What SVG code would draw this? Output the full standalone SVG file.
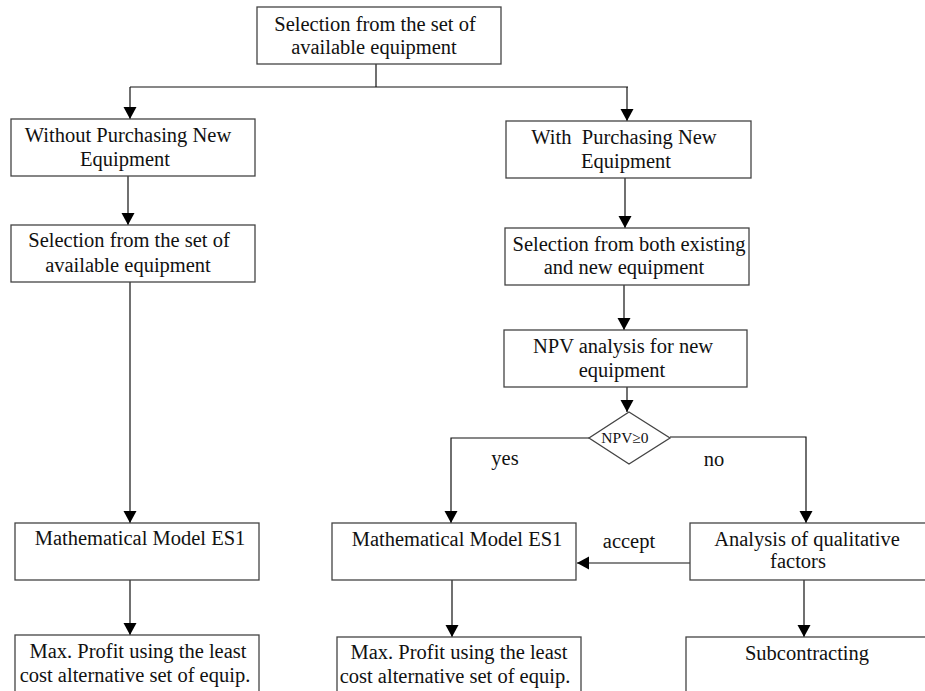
<svg xmlns="http://www.w3.org/2000/svg" width="925" height="691" viewBox="0 0 925 691" font-family="Liberation Serif, Times New Roman, DejaVu Serif, serif">
<defs>
<marker id="arr" markerUnits="userSpaceOnUse" markerWidth="14" markerHeight="14" refX="12" refY="6.5" orient="auto">
<path d="M0,0 L12,6.5 L0,13 Z" fill="#000"/>
</marker>
<style>
.box{fill:#fff;stroke:#444;stroke-width:1.3}
.ln{fill:none;stroke:#111;stroke-width:1.2}
.ar{fill:none;stroke:#111;stroke-width:1.2;marker-end:url(#arr)}
text{font-family:'Liberation Serif','Times New Roman','DejaVu Serif',serif;font-size:20.5px;fill:#111;text-anchor:middle;white-space:pre}
.sm{font-size:15.5px}
</style>
</defs>
<rect width="925" height="691" fill="#fff"/>
<g id="connectors">
<polyline class="ln" points="376,64 376,87"/>
<polyline class="ln" points="130,87 628,87"/>
<polyline class="ar" points="130,87 130,119"/>
<polyline class="ar" points="627,87 627,121"/>
<polyline class="ar" points="128,176 128,225"/>
<polyline class="ar" points="130,282 130,523"/>
<polyline class="ar" points="130,580 130,635"/>
<polyline class="ar" points="625,178 625,228"/>
<polyline class="ar" points="624,285 624,330"/>
<polyline class="ar" points="627,387 627,412"/>
<polyline class="ar" points="589,438 451,438 451,523"/>
<polyline class="ar" points="670,437 806,437 806,523"/>
<polyline class="ar" points="690,563 577,563"/>
<polyline class="ar" points="452,580 452,637"/>
<polyline class="ar" points="804,580 804,637"/>
<text x="505" y="465">yes</text>
<text x="714" y="466">no</text>
<text x="629" y="548">accept</text>
</g>
<g id="n-top">
<rect class="box" x="257" y="7" width="244" height="57"/>
<text x="375" y="31">Selection from the set of</text>
<text x="374" y="54">available equipment</text>
</g>
<g id="n-without">
<rect class="box" x="11" y="119" width="244" height="57"/>
<text x="128" y="142">Without Purchasing New</text>
<text x="125" y="166">Equipment</text>
</g>
<g id="n-sel-avail">
<rect class="box" x="11" y="225" width="244" height="57"/>
<text x="129" y="247">Selection from the set of</text>
<text x="128" y="272">available equipment</text>
</g>
<g id="n-math-left">
<rect class="box" x="15" y="523" width="244" height="57"/>
<text x="140" y="545">Mathematical Model ES1</text>
</g>
<g id="n-max-left">
<rect class="box" x="15" y="635" width="244" height="70"/>
<text x="138" y="658">Max. Profit using the least</text>
<text x="135" y="682">cost alternative set of equip.</text>
</g>
<g id="n-with">
<rect class="box" x="506" y="121" width="245" height="57"/>
<text x="624" y="144">With  Purchasing New</text>
<text x="626" y="168">Equipment</text>
</g>
<g id="n-sel-both">
<rect class="box" x="505" y="228" width="244" height="57"/>
<text x="629" y="251">Selection from both existing</text>
<text x="624" y="274">and new equipment</text>
</g>
<g id="n-npv">
<rect class="box" x="504" y="330" width="243" height="57"/>
<text x="623" y="353">NPV analysis for new</text>
<text x="622" y="377">equipment</text>
</g>
<g id="n-decision">
<polygon class="box" points="629,412 670,438 629,464 589,438"/>
<text class="sm" x="625" y="443">NPV≥0</text>
</g>
<g id="n-math-right">
<rect class="box" x="332" y="523" width="244" height="57"/>
<text x="457" y="546">Mathematical Model ES1</text>
</g>
<g id="n-max-right">
<rect class="box" x="337" y="637" width="244" height="70"/>
<text x="459" y="659">Max. Profit using the least</text>
<text x="455" y="683">cost alternative set of equip.</text>
</g>
<g id="n-analysis">
<rect class="box" x="690" y="523" width="250" height="57"/>
<text x="807" y="546">Analysis of qualitative</text>
<text x="798" y="568">factors</text>
</g>
<g id="n-sub">
<rect class="box" x="686" y="637" width="254" height="70"/>
<text x="807" y="660">Subcontracting</text>
</g>
</svg>
